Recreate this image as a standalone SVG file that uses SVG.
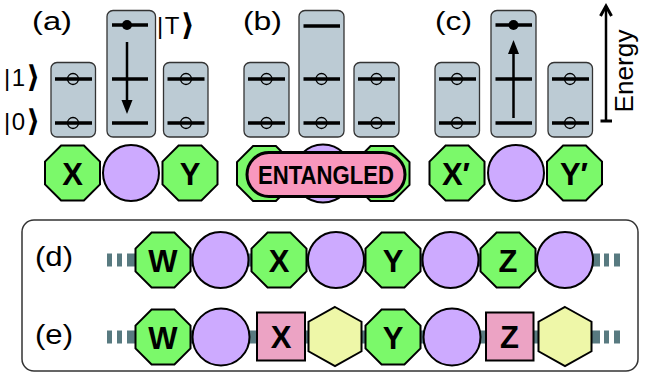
<svg xmlns="http://www.w3.org/2000/svg" width="655" height="373" viewBox="0 0 655 373">
<style>
.box{fill:#bccbd4;stroke:#333;stroke-width:1.3}
.lvl{stroke:#000;stroke-width:3.5;fill:none}
.oc{fill:none;stroke:#000;stroke-width:1.3}
.dot{fill:#000}
.arr{stroke:#000;stroke-width:2.5;fill:none}
.oct{fill:#7bf96a;stroke:#000;stroke-width:2}
.cir{fill:#cdaaff;stroke:#000;stroke-width:2}
.sq{fill:#eca3c4;stroke:#000;stroke-width:2}
.hex{fill:#eef7a8;stroke:#000;stroke-width:2}
.pill{fill:#f997bd;stroke:#000;stroke-width:3}
.lab{font-family:"Liberation Sans",Arial,sans-serif;font-size:25px;fill:#000}
.ket{font-family:"Liberation Sans",Arial,sans-serif;font-size:24px;fill:#000;letter-spacing:1.5px}
.br{font-family:"DejaVu Sans",sans-serif;font-weight:bold;font-size:30px}
.en{font-family:"Liberation Sans",Arial,sans-serif;font-size:26px;fill:#000}
.nl{font-family:"Liberation Sans",Arial,sans-serif;font-weight:bold;font-size:31px;fill:#000;text-anchor:middle}
.band{stroke:#587a80;stroke-width:13;fill:none}
</style>
<defs>
<polygon id="oct" class="oct" points="-11.4,-27.5 11.4,-27.5 27.5,-11.4 27.5,11.4 11.4,27.5 -11.4,27.5 -27.5,11.4 -27.5,-11.4"/>
<polygon id="hex" class="hex" points="0,-29.5 26.5,-14.75 26.5,14.75 0,29.5 -26.5,14.75 -26.5,-14.75"/>
<path id="ahd" d="M-5.5,-14 L0,0 L5.5,-14 Z" fill="#000"/>
</defs>

<!-- Panel (a) -->
<g id="panel-a">
<text class="lab" x="32" y="30" textLength="40" lengthAdjust="spacingAndGlyphs">(a)</text>
<text class="ket" x="4" y="86">|1<tspan class="br" dy="1">⟩</tspan></text>
<text class="ket" x="4" y="130">|0<tspan class="br" dy="1">⟩</tspan></text>
<text class="ket" x="157" y="34">|T<tspan class="br" dy="1">⟩</tspan></text>
<g id="a-site-x">
<rect class="box" x="51" y="62.5" width="44.5" height="74.5" rx="6"/>
<line class="lvl" x1="55" y1="79" x2="92" y2="79"/>
<line class="lvl" x1="55" y1="123" x2="92" y2="123"/>
<circle class="oc" cx="73" cy="79" r="5.5"/>
<circle class="oc" cx="73" cy="123" r="5.5"/>
</g>
<g id="a-site-mid">
<rect class="box" x="107" y="10.5" width="48.5" height="126.5" rx="6"/>
<line class="lvl" x1="112" y1="25" x2="148" y2="25"/>
<line class="lvl" x1="112" y1="79" x2="148" y2="79"/>
<line class="lvl" x1="112" y1="123" x2="148" y2="123"/>
<circle class="dot" cx="127" cy="25" r="5"/>
<line class="arr" x1="127" y1="42" x2="127" y2="102"/>
<use href="#ahd" transform="translate(127,114)"/>
</g>
<g id="a-site-y">
<rect class="box" x="163.5" y="62.5" width="44.5" height="74.5" rx="6"/>
<line class="lvl" x1="167.5" y1="79" x2="204.5" y2="79"/>
<line class="lvl" x1="167.5" y1="123" x2="204.5" y2="123"/>
<circle class="oc" cx="186" cy="79" r="5.5"/>
<circle class="oc" cx="186" cy="123" r="5.5"/>
</g>
<g id="a-node-x"><use href="#oct" x="72.5" y="173"/><text class="nl" x="72.5" y="184.5">X</text></g>
<g id="a-node-c"><circle class="cir" cx="131" cy="173" r="28"/></g>
<g id="a-node-y"><use href="#oct" x="190" y="173"/><text class="nl" x="190" y="184.5">Y</text></g>
</g>

<!-- Panel (b) -->
<g id="panel-b">
<text class="lab" x="243" y="30" textLength="39" lengthAdjust="spacingAndGlyphs">(b)</text>
<g id="b-site-x">
<rect class="box" x="244" y="62.5" width="45" height="74.5" rx="6"/>
<line class="lvl" x1="248" y1="79" x2="285" y2="79"/>
<line class="lvl" x1="248" y1="123" x2="285" y2="123"/>
<circle class="oc" cx="266.5" cy="79" r="5.5"/>
<circle class="oc" cx="266.5" cy="123" r="5.5"/>
</g>
<g id="b-site-mid">
<rect class="box" x="299" y="10.5" width="45" height="126.5" rx="6"/>
<line class="lvl" x1="303.5" y1="26" x2="340" y2="26"/>
<line class="lvl" x1="303.5" y1="79" x2="340" y2="79"/>
<line class="lvl" x1="303.5" y1="123" x2="340" y2="123"/>
<circle class="oc" cx="321.5" cy="79" r="5.5"/>
<circle class="oc" cx="321.5" cy="123" r="5.5"/>
</g>
<g id="b-site-y">
<rect class="box" x="354" y="62.5" width="45" height="74.5" rx="6"/>
<line class="lvl" x1="358" y1="79" x2="395" y2="79"/>
<line class="lvl" x1="358" y1="123" x2="395" y2="123"/>
<circle class="oc" cx="376.5" cy="79" r="5.5"/>
<circle class="oc" cx="376.5" cy="123" r="5.5"/>
</g>
<g id="b-node-x"><use href="#oct" x="264.5" y="173.5"/></g>
<g id="b-node-y"><use href="#oct" x="382" y="173.5"/></g>
<g id="b-node-c"><circle class="cir" cx="323" cy="173.5" r="29"/></g>
<g id="b-entangled">
<rect class="pill" x="247" y="152.5" width="158" height="44" rx="22"/>
<text class="nl" x="326" y="183.5" style="font-size:25px" textLength="136" lengthAdjust="spacingAndGlyphs">ENTANGLED</text>
</g>
</g>

<!-- Panel (c) -->
<g id="panel-c">
<text class="lab" x="435" y="30" textLength="37" lengthAdjust="spacingAndGlyphs">(c)</text>
<g id="c-site-x">
<rect class="box" x="435" y="62.5" width="44.5" height="74.5" rx="6"/>
<line class="lvl" x1="439" y1="79" x2="476" y2="79"/>
<line class="lvl" x1="439" y1="123" x2="476" y2="123"/>
<circle class="oc" cx="457" cy="79" r="5.5"/>
<circle class="oc" cx="457" cy="123" r="5.5"/>
</g>
<g id="c-site-mid">
<rect class="box" x="491" y="10.5" width="45" height="126.5" rx="6"/>
<line class="lvl" x1="495.5" y1="25" x2="532" y2="25"/>
<line class="lvl" x1="495.5" y1="79" x2="532" y2="79"/>
<line class="lvl" x1="495.5" y1="123" x2="532" y2="123"/>
<circle class="dot" cx="513.5" cy="25" r="5"/>
<line class="arr" x1="513.5" y1="118" x2="513.5" y2="52"/>
<use href="#ahd" transform="translate(513.5,40) rotate(180)"/>
</g>
<g id="c-site-y">
<rect class="box" x="548" y="62.5" width="44.5" height="74.5" rx="6"/>
<line class="lvl" x1="552" y1="79" x2="589" y2="79"/>
<line class="lvl" x1="552" y1="123" x2="589" y2="123"/>
<circle class="oc" cx="570" cy="79" r="5.5"/>
<circle class="oc" cx="570" cy="123" r="5.5"/>
</g>
<g id="c-node-x"><use href="#oct" x="457" y="173"/><text class="nl" x="456" y="184.5">X′</text></g>
<g id="c-node-c"><circle class="cir" cx="516" cy="173" r="28"/></g>
<g id="c-node-y"><use href="#oct" x="574.5" y="173"/><text class="nl" x="574" y="184.5">Y′</text></g>
</g>

<!-- Energy axis -->
<g id="energy-axis">
<line class="arr" x1="606" y1="6" x2="606" y2="121"/>
<polyline class="arr" points="600.5,16 606,6 611.5,16" style="stroke-width:3"/>
<line class="arr" x1="600.5" y1="121" x2="612" y2="121" style="stroke-width:3"/>
<text class="en" transform="translate(633,71) rotate(-90)" x="0" y="0" text-anchor="middle" textLength="83" lengthAdjust="spacingAndGlyphs">Energy</text>
</g>

<!-- Bottom panel -->
<rect x="22" y="220" width="616" height="151" rx="12" fill="#fff" stroke="#333" stroke-width="1.5"/>
<text class="lab" x="35" y="266" style="font-size:27px" textLength="38" lengthAdjust="spacingAndGlyphs">(d)</text>
<text class="lab" x="35" y="344" style="font-size:27px" textLength="38" lengthAdjust="spacingAndGlyphs">(e)</text>

<g id="connectors">
<line class="band" x1="127" y1="260" x2="600" y2="260"/>
<line class="band" x1="107" y1="260" x2="112" y2="260"/>
<line class="band" x1="117" y1="260" x2="122" y2="260"/>
<line class="band" x1="604" y1="260" x2="609" y2="260"/>
<line class="band" x1="614" y1="260" x2="620" y2="260"/>
<line class="band" x1="127" y1="337" x2="600" y2="337"/>
<line class="band" x1="107" y1="337" x2="112" y2="337"/>
<line class="band" x1="117" y1="337" x2="122" y2="337"/>
<line class="band" x1="604" y1="337" x2="609" y2="337"/>
<line class="band" x1="614" y1="337" x2="620" y2="337"/>
</g>

<g id="d-w"><use href="#oct" x="163" y="260"/><text class="nl" x="163" y="271.5">W</text></g>
<g id="d-c1"><circle class="cir" cx="220.5" cy="260" r="28"/></g>
<g id="d-x"><use href="#oct" x="279" y="260"/><text class="nl" x="279" y="271.5">X</text></g>
<g id="d-c2"><circle class="cir" cx="336" cy="260" r="28"/></g>
<g id="d-y"><use href="#oct" x="393" y="260"/><text class="nl" x="393" y="271.5">Y</text></g>
<g id="d-c3"><circle class="cir" cx="450.5" cy="260" r="28"/></g>
<g id="d-z"><use href="#oct" x="508" y="260"/><text class="nl" x="508" y="271.5">Z</text></g>
<g id="d-c4"><circle class="cir" cx="565" cy="260" r="28"/></g>

<g id="e-w"><use href="#oct" x="163" y="337"/><text class="nl" x="163" y="348.5">W</text></g>
<g id="e-c1"><circle class="cir" cx="221" cy="337" r="28.5"/></g>
<g id="e-x"><rect class="sq" x="257" y="312.5" width="48" height="48"/><text class="nl" x="281" y="348">X</text></g>
<g id="e-h1"><use href="#hex" x="335" y="336.5"/></g>
<g id="e-y"><use href="#oct" x="393" y="337"/><text class="nl" x="393" y="348.5">Y</text></g>
<g id="e-c2"><circle class="cir" cx="452" cy="337" r="28.5"/></g>
<g id="e-z"><rect class="sq" x="486" y="312.5" width="47.5" height="48"/><text class="nl" x="509.5" y="348">Z</text></g>
<g id="e-h2"><use href="#hex" x="565" y="336.5"/></g>
</svg>
